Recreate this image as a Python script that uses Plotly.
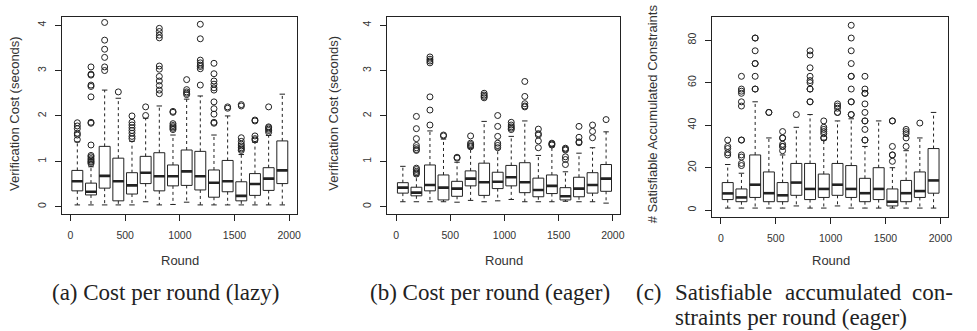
import plotly.graph_objects as go

W, H = 977, 331

positions = [62.5, 187.5, 312.5, 437.5, 562.5, 687.5, 812.5, 937.5,
             1062.5, 1187.5, 1312.5, 1437.5, 1562.5, 1687.5, 1812.5, 1937.5]

# (a) Cost per round (lazy)
a_q1 = [0.35, 0.26, 0.41, 0.13, 0.28, 0.51, 0.35, 0.46, 0.47, 0.37, 0.21, 0.33, 0.13, 0.25, 0.36, 0.51]
a_med = [0.56, 0.33, 0.68, 0.56, 0.47, 0.75, 0.67, 0.67, 0.78, 0.67, 0.53, 0.56, 0.24, 0.50, 0.62, 0.80]
a_q3 = [0.80, 0.52, 1.33, 1.07, 0.75, 1.11, 1.19, 0.92, 1.25, 1.22, 0.81, 1.02, 0.55, 0.73, 0.86, 1.45]
a_lo = [0.04, 0.04, 0.04, 0.04, 0.04, 0.11, 0.04, 0.05, 0.10, 0.04, 0.04, 0.04, 0.04, 0.04, 0.04, 0.04]
a_hi = [1.43, 0.88, 2.57, 2.39, 1.44, 1.95, 2.22, 1.58, 2.37, 2.44, 1.58, 2.00, 1.15, 1.42, 1.57, 2.48]
a_out = [
    [1.85, 1.78, 1.72, 1.62, 1.58, 1.48],
    [3.08, 2.92, 2.90, 2.68, 2.65, 2.42, 1.86, 1.84, 1.36, 1.13, 1.10, 1.06, 1.03, 1.00, 0.98, 0.95],
    [4.06, 3.67, 3.47, 3.29, 3.08, 3.00],
    [2.53],
    [2.00, 1.86, 1.80, 1.74, 1.68, 1.62, 1.55, 1.50],
    [2.20, 2.01],
    [3.93, 3.86, 3.78, 3.72, 3.10, 3.03, 2.87, 2.77, 2.67, 2.57, 2.49],
    [2.10, 2.08, 1.83, 1.79, 1.76, 1.73, 1.70],
    [2.80, 2.58, 2.53, 2.50, 2.47],
    [4.02, 3.70, 3.23, 3.17, 3.12, 3.09, 3.04, 2.68],
    [3.16, 2.93, 2.77, 2.70, 2.62, 2.57, 2.31, 2.16, 2.04, 1.86, 1.84],
    [2.20, 2.17],
    [2.25, 2.22, 1.52, 1.44, 1.38, 1.34, 1.30, 1.27, 1.24],
    [1.91, 1.89, 1.56, 1.50, 1.47],
    [2.20, 1.76, 1.74, 1.71, 1.68, 1.64],
    [],
]

# (b) Cost per round (eager)
b_q1 = [0.30, 0.24, 0.35, 0.15, 0.23, 0.46, 0.25, 0.40, 0.46, 0.31, 0.22, 0.29, 0.15, 0.22, 0.30, 0.34]
b_med = [0.42, 0.31, 0.48, 0.42, 0.40, 0.62, 0.54, 0.55, 0.65, 0.54, 0.37, 0.46, 0.23, 0.40, 0.48, 0.62]
b_q3 = [0.53, 0.43, 0.92, 0.70, 0.56, 0.79, 0.96, 0.76, 0.91, 0.97, 0.63, 0.70, 0.42, 0.65, 0.75, 0.93]
b_lo = [0.11, 0.11, 0.11, 0.11, 0.10, 0.14, 0.11, 0.13, 0.16, 0.11, 0.11, 0.11, 0.12, 0.11, 0.11, 0.08]
b_hi = [0.89, 0.68, 1.67, 1.49, 0.98, 1.29, 1.88, 1.27, 1.55, 1.89, 1.13, 1.32, 0.77, 1.18, 1.30, 1.65]
b_out = [
    [],
    [1.99, 1.72, 1.50, 1.35, 1.30, 1.26, 1.24, 0.85, 0.82, 0.78, 0.75, 0.72],
    [3.30, 3.25, 3.21, 3.17, 2.42, 2.13, 1.80],
    [1.58, 1.56],
    [1.09, 1.07],
    [1.56, 1.40, 1.37, 1.34, 1.32],
    [2.50, 2.46, 2.43, 2.40],
    [2.01, 1.77, 1.55, 1.40, 1.35, 1.30],
    [1.86, 1.80, 1.76, 1.73, 1.70],
    [2.76, 2.43, 2.27, 2.22, 2.20],
    [1.71, 1.61, 1.58, 1.45, 1.30],
    [1.40, 1.38, 1.36],
    [1.29, 1.27, 1.25, 1.10, 1.04, 0.93],
    [1.77, 1.53, 1.43, 1.41],
    [1.80, 1.66, 1.52],
    [1.92],
]

# (c) Satisfiable accumulated constraints per round (eager)
c_q1 = [5, 4, 6, 4, 4, 7, 5, 6, 7, 6, 4, 5, 2, 4, 6, 8]
c_med = [7.9, 6, 12, 8, 7, 13, 10, 10, 12, 10, 8, 10, 4, 8, 9, 14]
c_q3 = [13, 10, 26, 18, 13, 22, 22, 17, 22, 21, 15, 20, 10, 14, 18, 29]
c_lo = [1, 1, 1, 1, 1, 2, 1, 1, 2, 1, 1, 1, 1, 1, 1, 1]
c_hi = [21.5, 17.4, 51, 34, 26, 39, 45, 33, 42, 43, 30, 42, 20, 28, 34, 46]
c_out = [
    [33, 30, 29, 27, 26],
    [63, 57, 56, 55, 51, 49, 33, 33, 26, 25, 22, 21],
    [81, 81, 75, 69, 69, 63, 57, 57],
    [46, 46],
    [37, 34, 34, 31, 30, 30, 28],
    [45],
    [75, 73, 67, 63, 61, 60, 57, 57, 51, 51],
    [42, 39, 38, 37, 36, 34, 34],
    [50, 49, 48, 46, 46],
    [87, 81, 75, 69, 63, 63, 57, 51, 51, 45, 45],
    [63, 57, 55, 55, 50, 46, 42, 42, 38, 33, 33],
    [],
    [42, 42, 30, 26, 26, 23],
    [38, 37, 36, 34, 30],
    [41],
    [],
]

x_ticks = [0, 500, 1000, 1500, 2000]
ab_yticks = [0, 1, 2, 3, 4]
c_yticks = [0, 20, 40, 60, 80]

y_title_ab = "Verification Cost (seconds)"
y_title_c = "# Satisfiable Accumulated Constraints"
x_title = "Round"
caption_a = "(a) Cost per round (lazy)"
caption_b = "(b) Cost per round (eager)"
caption_c_line1 = ["(c)", "Satisfiable", "accumulated", "con-"]
caption_c_line2 = "straints per round (eager)"

BOX_W = 100
STAPLE_W = 50
INK = "#222222"
SANS = "Liberation Sans, Arial, sans-serif"
SERIF = "Liberation Serif, Times New Roman, serif"

fig = go.Figure()


def add_panel(idx, q1, med, q3, lo, hi, outs):
    xa = "x" if idx == 1 else f"x{idx}"
    ya = "y" if idx == 1 else f"y{idx}"
    # boxes
    fig.add_trace(go.Box(
        x=positions, q1=q1, median=med, q3=q3, lowerfence=q1, upperfence=q3,
        width=BOX_W, fillcolor="white", line=dict(color=INK, width=1),
        whiskerwidth=0, boxpoints=False, xaxis=xa, yaxis=ya,
        showlegend=False, hoverinfo="skip"))
    # dashed whiskers
    wx, wy = [], []
    for p, a, b, l, h in zip(positions, q1, q3, lo, hi):
        wx += [p, p, None, p, p, None]
        wy += [b, h, None, a, l, None]
    fig.add_trace(go.Scatter(x=wx, y=wy, mode="lines", xaxis=xa, yaxis=ya,
                             line=dict(color=INK, width=1, dash="3px,3px"),
                             showlegend=False, hoverinfo="skip"))
    # staples
    sx, sy = [], []
    for p, l, h in zip(positions, lo, hi):
        sx += [p - STAPLE_W / 2, p + STAPLE_W / 2, None, p - STAPLE_W / 2, p + STAPLE_W / 2, None]
        sy += [h, h, None, l, l, None]
    fig.add_trace(go.Scatter(x=sx, y=sy, mode="lines", xaxis=xa, yaxis=ya,
                             line=dict(color=INK, width=1),
                             showlegend=False, hoverinfo="skip"))
    # thick medians
    mx, my = [], []
    for p, m in zip(positions, med):
        mx += [p - BOX_W / 2, p + BOX_W / 2, None]
        my += [m, m, None]
    fig.add_trace(go.Scatter(x=mx, y=my, mode="lines", xaxis=xa, yaxis=ya,
                             line=dict(color=INK, width=2.6),
                             showlegend=False, hoverinfo="skip"))
    # outliers
    ox, oy = [], []
    for p, vals in zip(positions, outs):
        ox += [p] * len(vals)
        oy += list(vals)
    fig.add_trace(go.Scatter(x=ox, y=oy, mode="markers", xaxis=xa, yaxis=ya,
                             marker=dict(symbol="circle-open", size=6, color=INK,
                                         line=dict(width=1, color=INK)),
                             showlegend=False, hoverinfo="skip"))


add_panel(1, a_q1, a_med, a_q3, a_lo, a_hi, a_out)
add_panel(2, b_q1, b_med, b_q3, b_lo, b_hi, b_out)
add_panel(3, c_q1, c_med, c_q3, c_lo, c_hi, c_out)


def px_x(v):
    return v / W


def px_y(v):
    return 1 - v / H


axis_common = dict(showline=True, linecolor=INK, linewidth=1, mirror=True,
                   ticks="outside", ticklen=6, tickcolor=INK, tickwidth=1,
                   showgrid=False, zeroline=False,
                   tickfont=dict(family=SANS, size=10.5, color="#333333"))

domains_x = [(62, 298), (389, 623), (715, 952)]
domains_y = [(17, 214), (17, 214), (17, 217)]
yranges = [(-0.16, 4.18), (-0.16, 4.18), (-3.2, 90.9)]
yticks = [ab_yticks, ab_yticks, c_yticks]

lay = {}
for i in range(3):
    sfx = "" if i == 0 else str(i + 1)
    lay["xaxis" + sfx] = dict(axis_common,
                              domain=[px_x(domains_x[i][0]), px_x(domains_x[i][1])],
                              range=[-80, 2070], tickvals=x_ticks,
                              anchor="y" + sfx, ticklabelstandoff=5)
    lay["yaxis" + sfx] = dict(axis_common,
                              domain=[px_y(domains_y[i][1]), px_y(domains_y[i][0])],
                              range=list(yranges[i]), tickvals=yticks[i],
                              anchor="x" + sfx, tickangle=-90, ticklabelstandoff=5)

annotations = []
ytitle_x = [15, 335, 655]
ytitle_y = [113, 113, 114]
ytitles = [y_title_ab, y_title_ab, y_title_c]
xtitle_x = [180.5, 506.5, 834.5]
for i in range(3):
    annotations.append(dict(text=ytitles[i], x=px_x(ytitle_x[i]), y=px_y(ytitle_y[i]),
                            xref="paper", yref="paper", showarrow=False, textangle=-90,
                            xanchor="center", yanchor="middle",
                            font=dict(family=SANS, size=13, color="#333333")))
    annotations.append(dict(text=x_title, x=px_x(xtitle_x[i]), y=px_y(260),
                            xref="paper", yref="paper", showarrow=False,
                            xanchor="center", yanchor="middle",
                            font=dict(family=SANS, size=13, color="#333333")))

cap_font = dict(family=SERIF, size=23, color="#222222")


def cap(text, x, y, anchor):
    annotations.append(dict(text=text, x=px_x(x), y=px_y(y), xref="paper", yref="paper",
                            showarrow=False, xanchor=anchor, yanchor="middle", font=cap_font))


cap(caption_a, 166, 292, "center")
cap(caption_b, 492, 292, "center")
# justified first line of caption (c) with hanging indent
cap(caption_c_line1[0], 637, 292, "left")
cap(caption_c_line1[1], 676, 292, "left")
cap(caption_c_line1[2], 786, 292, "left")
cap(caption_c_line1[3], 959, 292, "right")
cap(caption_c_line2, 676, 317, "left")

fig.update_layout(width=W, height=H, autosize=False,
                  margin=dict(l=0, r=0, t=0, b=0),
                  paper_bgcolor="white", plot_bgcolor="white",
                  annotations=annotations, boxmode="overlay", **lay)

fig.write_html("out.html")
